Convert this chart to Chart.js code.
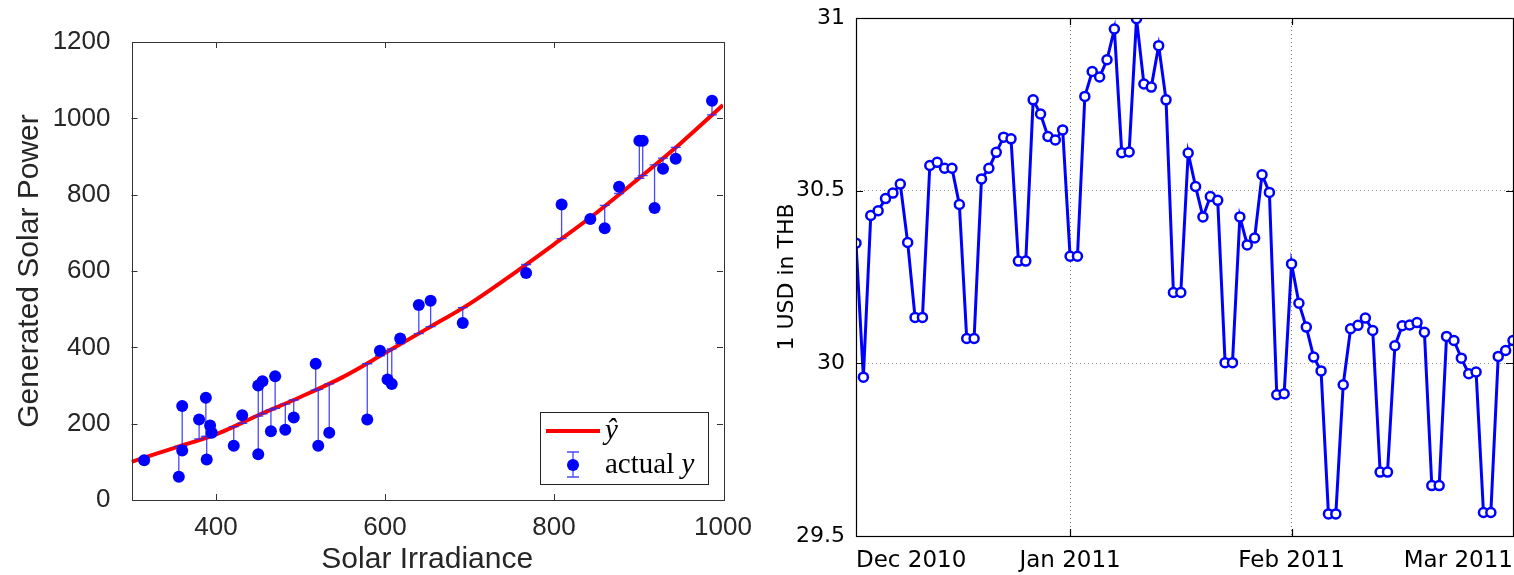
<!DOCTYPE html>
<html>
<head>
<meta charset="utf-8">
<title>Solar power fit / USD-THB</title>
<script src="https://cdn.jsdelivr.net/npm/chart.js@4.4.1/dist/chart.umd.min.js"></script>
<style>
  html, body { margin: 0; padding: 0; background: #fff; }
  #wrap { position: relative; width: 1514px; height: 575px; }
  .panel { position: absolute; top: 0; height: 575px; }
  #solarBox { left: 0; width: 760px; }
  #thbBox { left: 760px; width: 754px; }
</style>
</head>
<body>
<div id="wrap">
  <div class="panel" id="solarBox"><canvas id="solarChart"></canvas></div>
  <div class="panel" id="thbBox"><canvas id="thbChart"></canvas></div>
</div>
<script>
// ---- left panel: regression of generated power on irradiance ----
var irradiance  = [315, 356, 360, 360, 380, 388, 389, 393, 395, 421, 431, 450, 450, 455, 465, 470, 482, 492, 518, 521,
                   534, 579, 594, 603, 608, 618, 640, 654, 692, 767, 809, 843, 860, 877, 901, 905, 919, 929, 944, 987];
var actualPower = [104, 61, 246, 130, 211, 268, 106, 195, 176, 142, 222, 120, 300, 311, 180, 324, 184, 216, 357, 142,
                   176, 211, 391, 316, 304, 423, 511, 522, 464, 595, 774, 736, 712, 821, 941, 941, 765, 868, 894, 1046];
var fittedPower = [108, 140, 142, 142, 160, 166, 167, 170, 171, 192, 201, 220, 220, 226, 236, 240, 251, 262, 288, 290,
                   304, 357, 378, 390, 396, 410, 436, 454, 504, 617, 685, 742, 772, 803, 843, 850, 878, 896, 924, 1009];
var fitX = [300, 350, 400, 450, 500, 550, 600, 650, 700, 750, 800, 850, 900, 950, 1000];
var fitY = [100, 136, 172, 222, 270, 322, 385, 449, 514, 590, 670, 752, 842, 935, 1035];
var solarXTicks = [400, 600, 800, 1000];
var solarYTicks = [0, 200, 400, 600, 800, 1000, 1200];

// ---- right panel: 1 USD in THB, one value per trading point ----
var thbRate = [30.348, 29.960, 30.428, 30.442, 30.477, 30.493, 30.519, 30.350, 30.133, 30.133,
               30.573, 30.582, 30.565, 30.565, 30.460, 30.072, 30.072, 30.534, 30.565, 30.611,
               30.655, 30.650, 30.296, 30.296, 30.763, 30.722, 30.657, 30.647, 30.676, 30.310,
               30.310, 30.773, 30.845, 30.829, 30.879, 30.968, 30.610, 30.612, 30.998, 30.809,
               30.800, 30.920, 30.763, 30.205, 30.205, 30.609, 30.512, 30.424, 30.483, 30.472,
               30.002, 30.002, 30.424, 30.343, 30.363, 30.546, 30.495, 29.909, 29.912, 30.288,
               30.174, 30.105, 30.018, 29.978, 29.564, 29.564, 29.938, 30.100, 30.110, 30.131,
               30.095, 29.685, 29.685, 30.051, 30.109, 30.111, 30.118, 30.090, 29.646, 29.646,
               30.078, 30.066, 30.015, 29.970, 29.975, 29.568, 29.568, 30.020, 30.037, 30.066];
var monthTickPos = [1, 30, 60, 90];
var monthTickLabels = ['Dec 2010', 'Jan 2011', 'Feb 2011', 'Mar 2011'];
var thbYTicks = [29.5, 30, 30.5, 31];

var dayNumber = thbRate.map(function (v, i) { return i + 1; });

// force a scale's box size and drop the label overflow padding
function fixSize(prop, size) {
    return function (s) {
        s[prop] = size;
        s.paddingLeft = s.paddingRight = s.paddingTop = s.paddingBottom = 0;
    };
}

// box round the plot area with small inward ticks (matlab style)
function boxPlugin(color, width, tickLen) {
    return {
        id: 'boxAxes',
        afterDraw: function (chart) {
            var ctx = chart.ctx, a = chart.chartArea, sx = chart.scales.x, sy = chart.scales.y;
            ctx.save();
            ctx.strokeStyle = color;
            ctx.lineWidth = width;
            ctx.strokeRect(Math.round(a.left) + 0.5, Math.round(a.top) + 0.5,
                Math.round(a.right - a.left), Math.round(a.bottom - a.top));
            ctx.beginPath();
            sx.ticks.forEach(function (t) {
                var px = Math.round(sx.getPixelForValue(t.value)) + 0.5;
                if (px <= a.left + 2 || px >= a.right - 2) return;
                ctx.moveTo(px, a.bottom); ctx.lineTo(px, a.bottom - tickLen);
                ctx.moveTo(px, a.top); ctx.lineTo(px, a.top + tickLen);
            });
            sy.ticks.forEach(function (t) {
                var py = Math.round(sy.getPixelForValue(t.value)) + 0.5;
                if (py <= a.top + 2 || py >= a.bottom - 2) return;
                ctx.moveTo(a.left, py); ctx.lineTo(a.left + tickLen, py);
                ctx.moveTo(a.right, py); ctx.lineTo(a.right - tickLen, py);
            });
            ctx.stroke();
            ctx.restore();
        }
    };
}

// residual lines from each point to the fitted curve, cap on the fitted end
var residualBars = {
    id: 'residualBars',
    afterDatasetDraw: function (chart, args) {
        if (args.index !== 0) return;
        var ctx = chart.ctx, sx = chart.scales.x, sy = chart.scales.y;
        ctx.save();
        ctx.strokeStyle = 'rgba(40,40,255,0.85)';
        ctx.lineWidth = 1.3;
        ctx.beginPath();
        for (var i = 0; i < irradiance.length; i++) {
            var px = sx.getPixelForValue(irradiance[i]);
            var p0 = sy.getPixelForValue(actualPower[i]);
            var p1 = sy.getPixelForValue(fittedPower[i]);
            ctx.moveTo(px, p0); ctx.lineTo(px, p1);
            ctx.moveTo(px - 5, p1); ctx.lineTo(px + 5, p1);
        }
        ctx.stroke();
        ctx.restore();
    }
};

var solarLegend = {
    id: 'solarLegend',
    afterDraw: function (chart) {
        var ctx = chart.ctx, a = chart.chartArea;
        var w = 168, h = 72;
        var x0 = a.right - 15 - w, y0 = a.bottom - 16 - h;
        ctx.save();
        ctx.fillStyle = '#fff';
        ctx.fillRect(x0, y0, w, h);
        ctx.strokeStyle = '#222';
        ctx.lineWidth = 1;
        ctx.strokeRect(Math.round(x0) + 0.5, Math.round(y0) + 0.5, w, h);
        // red line entry
        ctx.strokeStyle = '#ff0000';
        ctx.lineWidth = 4;
        ctx.beginPath();
        ctx.moveTo(x0 + 6, y0 + 19); ctx.lineTo(x0 + 60, y0 + 19);
        ctx.stroke();
        // error bar entry
        ctx.strokeStyle = 'rgba(40,40,255,0.85)';
        ctx.lineWidth = 1.3;
        ctx.beginPath();
        ctx.moveTo(x0 + 33, y0 + 40); ctx.lineTo(x0 + 33, y0 + 65);
        ctx.moveTo(x0 + 27, y0 + 40); ctx.lineTo(x0 + 39, y0 + 40);
        ctx.moveTo(x0 + 27, y0 + 65); ctx.lineTo(x0 + 39, y0 + 65);
        ctx.stroke();
        ctx.fillStyle = '#0000ff';
        ctx.beginPath();
        ctx.arc(x0 + 33, y0 + 53, 6, 0, Math.PI * 2);
        ctx.fill();
        // texts
        ctx.fillStyle = '#000';
        ctx.textBaseline = 'middle';
        ctx.font = 'italic 29px "Liberation Serif", serif';
        ctx.fillText('\u0177', x0 + 65, y0 + 19);
        ctx.font = '29px "Liberation Serif", serif';
        ctx.fillText('actual', x0 + 65, y0 + 53);
        var tw = ctx.measureText('actual ').width;
        ctx.font = 'italic 29px "Liberation Serif", serif';
        ctx.fillText('y', x0 + 65 + tw, y0 + 53);
        ctx.restore();
    }
};

var solarFont = '"Liberation Sans", Arial, sans-serif';

new Chart(document.getElementById('solarChart'), {
    type: 'scatter',
    data: {
        datasets: [
            {
                type: 'line',
                label: '\u0177',
                data: fitX.map(function (x, i) { return { x: x, y: fitY[i] }; }),
                borderColor: '#ff0000',
                borderWidth: 4,
                pointRadius: 0,
                cubicInterpolationMode: 'monotone',
                fill: false,
                order: 1
            },
            {
                label: 'actual y',
                data: irradiance.map(function (x, i) { return { x: x, y: actualPower[i] }; }),
                backgroundColor: '#0000ff',
                borderColor: '#0000ff',
                borderWidth: 0,
                pointRadius: 6,
                order: 0
            }
        ]
    },
    options: {
        responsive: true,
        maintainAspectRatio: false,
        animation: false,
        layout: { autoPadding: false, padding: { left: 15, top: 42, right: 37, bottom: 0 } },
        plugins: { legend: { display: false }, tooltip: { enabled: false } },
        scales: {
            x: {
                type: 'linear', min: 300, max: 1000,
                afterBuildTicks: function (s) { s.ticks = solarXTicks.map(function (v) { return { value: v }; }); },
                afterFit: fixSize('height', 75),
                grid: { display: false, drawTicks: false },
                border: { display: false },
                ticks: { color: '#262626', padding: 12, maxRotation: 0, font: { family: solarFont, size: 26 },
                         callback: function (v) { return String(v); } },
                title: { display: true, text: 'Solar Irradiance', color: '#262626', padding: 0,
                         font: { family: solarFont, size: 30, lineHeight: 1 } }
            },
            y: {
                min: 0, max: 1200,
                afterBuildTicks: function (s) { s.ticks = solarYTicks.map(function (v) { return { value: v }; }); },
                afterFit: fixSize('width', 116.5),
                grid: { display: false, drawTicks: false },
                border: { display: false },
                ticks: { color: '#262626', padding: 21, font: { family: solarFont, size: 26 },
                         callback: function (v) { return String(v); } },
                title: { display: true, text: 'Generated Solar Power', color: '#262626', padding: 0,
                         font: { family: solarFont, size: 30, lineHeight: 1 } }
            }
        }
    },
    plugins: [residualBars, boxPlugin('#333', 1, 6), solarLegend]
});

var thbFont = '"DejaVu Sans", sans-serif';

new Chart(document.getElementById('thbChart'), {
    type: 'line',
    data: {
        datasets: [{
            label: '1 USD in THB',
            data: dayNumber.map(function (x, i) { return { x: x, y: thbRate[i] }; }),
            borderColor: '#0000ff',
            borderWidth: 3,
            pointRadius: 4.5,
            pointBorderWidth: 2.5,
            pointBackgroundColor: '#ffffff',
            pointBorderColor: '#0000ff',
            tension: 0
        }]
    },
    options: {
        responsive: true,
        maintainAspectRatio: false,
        animation: false,
        layout: { autoPadding: false, padding: { left: 16, top: 18, right: 1, bottom: 0 } },
        plugins: { legend: { display: false }, tooltip: { enabled: false } },
        scales: {
            x: {
                type: 'linear', min: 1, max: 90,
                afterBuildTicks: function (s) { s.ticks = monthTickPos.map(function (v) { return { value: v }; }); },
                afterFit: fixSize('height', 39),
                grid: { color: '#777', lineWidth: 1, drawTicks: false },
                border: { display: false, dash: [1, 3] },
                ticks: {
                    color: '#000', padding: 11, align: 'inner', maxRotation: 0, autoSkip: false,
                    font: { family: thbFont, size: 23 },
                    callback: function (v, i) { return monthTickLabels[i]; }
                }
            },
            y: {
                min: 29.5, max: 31,
                afterBuildTicks: function (s) { s.ticks = thbYTicks.map(function (v) { return { value: v }; }); },
                afterFit: fixSize('width', 80),
                grid: { color: '#999', lineWidth: 1, drawTicks: false },
                border: { display: false, dash: [1, 3] },
                ticks: { color: '#000', padding: 11, font: { family: thbFont, size: 22 },
                         callback: function (v) { return String(v); } },
                title: { display: true, text: '1 USD in THB', color: '#000', padding: 0,
                         font: { family: thbFont, size: 22, lineHeight: 1 } }
            }
        }
    },
    plugins: [boxPlugin('#000', 1.2, 7)]
});
</script>
</body>
</html>
